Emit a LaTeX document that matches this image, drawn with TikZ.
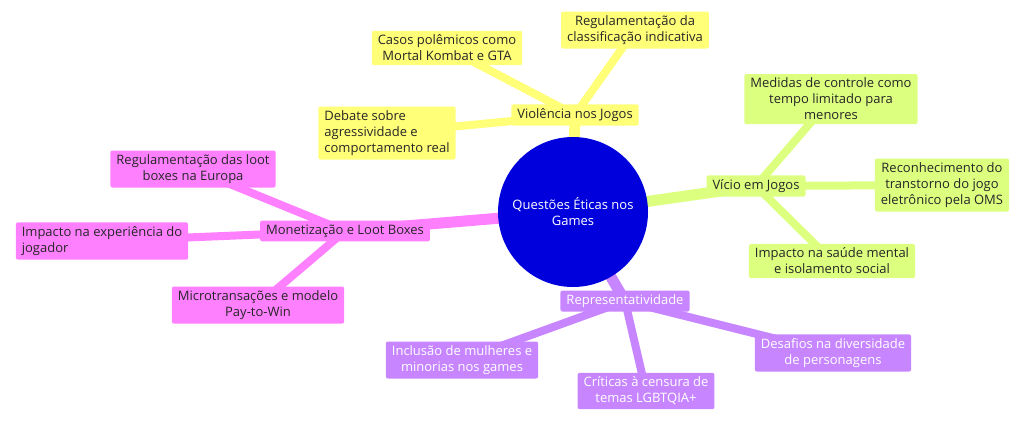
\documentclass[tikz,border=0pt]{standalone}
\usepackage{fontspec}
\setmainfont{Open Sans}
\usetikzlibrary{backgrounds}
\definecolor{cy}{HTML}{FFFF78}
\definecolor{cg}{HTML}{DDFF80}
\definecolor{cp}{HTML}{FF80FF}
\definecolor{cv}{HTML}{C786FF}
\definecolor{cb}{HTML}{0000DD}
\definecolor{ulav}{HTML}{B0A8F0}
\definecolor{ugr}{HTML}{D8FFB0}
\begin{document}
\begin{tikzpicture}[x=1pt,y=-1pt,
  box/.style={rounded corners=2pt,inner xsep=6pt,inner ysep=4pt,align=center,font=\fontsize{13}{16}\selectfont,text=black!85},
  ybox/.style={box,fill=cy,append after command={[draw=ulav,line width=1.5pt,sharp corners] (\tikzlastnode.south west)--(\tikzlastnode.south east)}},
  gbox/.style={box,fill=cg,append after command={[draw=ulav,line width=1.5pt] (\tikzlastnode.south west)--(\tikzlastnode.south east)}},
  pbox/.style={box,fill=cp,append after command={[draw=ulav,line width=1.5pt] (\tikzlastnode.south west)--(\tikzlastnode.south east)}},
  vbox/.style={box,fill=cv,text=white,append after command={[draw=ugr,line width=1.5pt] (\tikzlastnode.south west)--(\tikzlastnode.south east)}},
  main/.style={line width=11pt},
  leaf/.style={line width=8pt}]
\useasboundingbox (0,0) rectangle (1024,424);
\node[circle,fill=cb,minimum size=150pt,text=white,align=center,font=\fontsize{13}{16}\selectfont] (c) at (573,212) {Questões Éticas nos\\Games};
\node[ybox] (v) at (575,115) {Violência nos Jogos};
\node[ybox] (v1) at (635,30) {Regulamentação da\\classificação indicativa};
\node[ybox] (v2) at (447,48) {Casos polêmicos como\\Mortal Kombat e GTA};
\node[ybox,align=left] (v3) at (387,133) {Debate sobre\\agressividade e\\comportamento real};
\node[gbox] (g) at (756,186) {Vício em Jogos};
\node[gbox] (g1) at (831,99) {Medidas de controle como\\tempo limitado para\\menores};
\node[gbox] (g2) at (942,185) {Reconhecimento do\\transtorno do jogo\\eletrônico pela OMS};
\node[gbox] (g3) at (832,261) {Impacto na saúde mental\\e isolamento social};
\node[pbox] (p) at (345,231) {Monetização e Loot Boxes};
\node[pbox] (p1) at (193,169) {Regulamentação das loot\\boxes na Europa};
\node[pbox,align=left] (p2) at (102,241) {Impacto na experiência do\\jogador};
\node[pbox] (p3) at (258,305) {Microtransações e modelo\\Pay-to-Win};
\node[vbox] (r) at (625,301) {Representatividade};
\node[vbox] (r1) at (462,360) {Inclusão de mulheres e\\minorias nos games};
\node[vbox] (r2) at (646,391) {Críticas à censura de\\temas LGBTQIA+};
\node[vbox] (r3) at (833,353) {Desafios na diversidade\\de personagens};
\begin{scope}[on background layer]
\draw[cy,main] (c.center)--(v.center);
\draw[cy,leaf] (v.center)--(v1.center) (v.center)--(v2.center) (v.center)--(v3.center);
\draw[cg,main] (c.center)--(g.center);
\draw[cg,leaf] (g.center)--(g1.center) (g.center)--(g2.center) (g.center)--(g3.center);
\draw[cp,main] (c.center)--(p.center);
\draw[cp,leaf] (p.center)--(p1.center) (p.center)--(p2.center) (p.center)--(p3.center);
\draw[cv,main] (c.center)--(r.center);
\draw[cv,leaf] (r.center)--(r1.center) (r.center)--(r2.center) (r.center)--(r3.center);
\end{scope}
\end{tikzpicture}
\end{document}
